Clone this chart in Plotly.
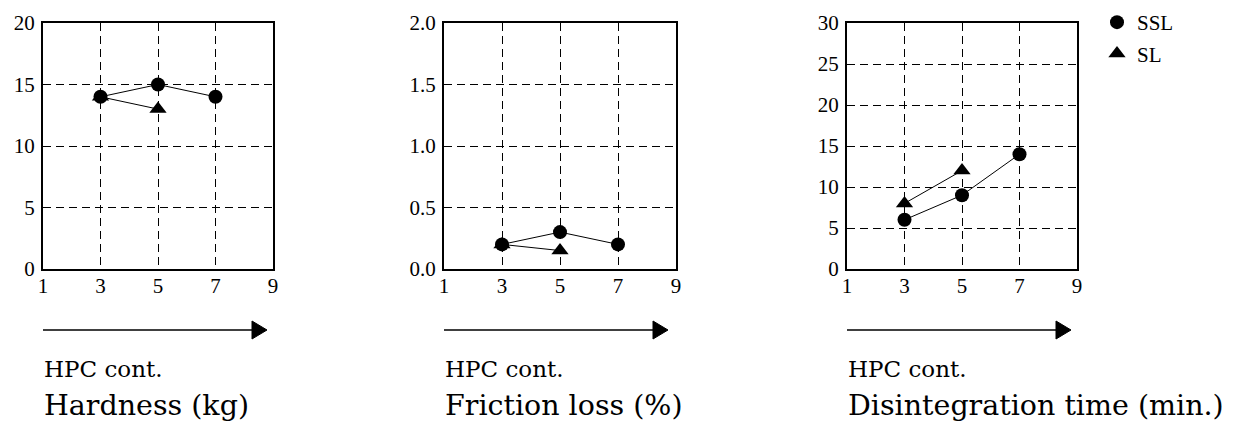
import plotly.graph_objects as go
from plotly.subplots import make_subplots

x_ssl = [3, 5, 7]
x_sl = [3, 5]

hard_ssl = [14, 15, 14]
hard_sl = [14, 13]
fric_ssl = [0.2, 0.3, 0.2]
fric_sl = [0.2, 0.15]
dis_ssl = [6, 9, 14]
dis_sl = [8, 12]

x_ticks = [1, 3, 5, 7, 9]
titles = ["Hardness (kg)", "Friction loss (%)", "Disintegration time (min.)"]
y_ranges = [[0, 20], [0, 2.0], [0, 30]]
y_dticks = [5, 0.5, 5]
y_formats = ["d", ".1f", "d"]

W, H = 1238, 422
OFF = 8  # page body margin
TICKFONT = "Liberation Serif, Times New Roman, serif"
TEXTFONT = "DejaVu Serif, serif"
DASH = "8px,5px"


def px(xp):
    return (xp - OFF) / W


def py(yp):
    return 1 - (yp - OFF) / H


fig = make_subplots(rows=1, cols=3)

series = [(hard_ssl, hard_sl), (fric_ssl, fric_sl), (dis_ssl, dis_sl)]
for i, (ssl, sl) in enumerate(series):
    fig.add_trace(go.Scatter(x=x_sl, y=sl, mode="lines+markers", name="SL",
                             line=dict(color="black", width=1),
                             marker=dict(symbol="triangle-up", size=15, color="black"),
                             showlegend=False), row=1, col=i + 1)
    fig.add_trace(go.Scatter(x=x_ssl, y=ssl, mode="lines+markers", name="SSL",
                             line=dict(color="black", width=1),
                             marker=dict(symbol="circle", size=14, color="black"),
                             showlegend=False), row=1, col=i + 1)

# legend-only marker entries
fig.add_trace(go.Scatter(x=[None], y=[None], mode="markers", name="SSL",
                         marker=dict(symbol="circle", size=14, color="black"),
                         showlegend=True, legendrank=1, legendgroup="a"), row=1, col=3)
fig.add_trace(go.Scatter(x=[None], y=[None], mode="markers", name="SL",
                         marker=dict(symbol="triangle-up", size=15, color="black"),
                         showlegend=True, legendrank=2, legendgroup="b"), row=1, col=3)

px_left = [43, 444, 847]
px_right = [273, 676, 1077]
top_px, bot_px = 23, 269

shapes = []
annotations = []
for i in range(3):
    xd = [px(px_left[i]), px(px_right[i])]
    yd = [py(bot_px), py(top_px)]
    ax = "xaxis" if i == 0 else f"xaxis{i+1}"
    ay = "yaxis" if i == 0 else f"yaxis{i+1}"
    fig.layout[ax].update(domain=xd, range=[1, 9], tickvals=x_ticks, automargin=False,
                          showgrid=True, gridcolor="black", griddash=DASH, gridwidth=1,
                          showline=True, linecolor="black", linewidth=2, mirror=True,
                          zeroline=False, ticks="", ticklabelstandoff=-3,
                          tickfont=dict(family=TICKFONT, size=21, color="black"))
    fig.layout[ay].update(domain=yd, range=y_ranges[i], dtick=y_dticks[i], tick0=0,
                          tickformat=y_formats[i], automargin=False,
                          showgrid=True, gridcolor="black", griddash=DASH, gridwidth=1,
                          showline=True, linecolor="black", linewidth=2, mirror=True,
                          zeroline=False, ticks="", ticklabelstandoff=2,
                          tickfont=dict(family=TICKFONT, size=21, color="black"))
    # arrow
    x0 = px_left[i]
    x1 = px_left[i] + 224
    yarr = 330
    shapes.append(dict(type="line", xref="paper", yref="paper",
                       x0=px(x0), x1=px(x1 - 12), y0=py(yarr), y1=py(yarr),
                       line=dict(color="black", width=1.5)))
    path = (f"M {px(x1-15)} {py(yarr-9)} L {px(x1)} {py(yarr)} "
            f"L {px(x1-15)} {py(yarr+9)} Z")
    shapes.append(dict(type="path", xref="paper", yref="paper", path=path,
                       fillcolor="black", line=dict(color="black", width=1)))
    annotations.append(dict(text="HPC cont.", xref="paper", yref="paper",
                            x=px(x0 - 1), y=py(369), xanchor="left", yanchor="middle",
                            showarrow=False, font=dict(family=TEXTFONT, size=23, color="black")))
    annotations.append(dict(text=titles[i], xref="paper", yref="paper",
                            x=px(x0 - 1), y=py(405), xanchor="left", yanchor="middle",
                            showarrow=False, font=dict(family=TEXTFONT, size=28.5, color="black")))

fig.update_layout(
    width=W, height=H, margin=dict(l=0, r=0, t=0, b=0, autoexpand=False),
    paper_bgcolor="white", plot_bgcolor="white",
    shapes=shapes, annotations=annotations,
    showlegend=True,
    legend=dict(x=px(1097), y=py(2), xanchor="left", yanchor="top",
                font=dict(family=TICKFONT, size=21, color="black"),
                itemwidth=30, tracegroupgap=1, traceorder="grouped",
                bgcolor="rgba(0,0,0,0)"),
)

fig.write_html("out.html")
